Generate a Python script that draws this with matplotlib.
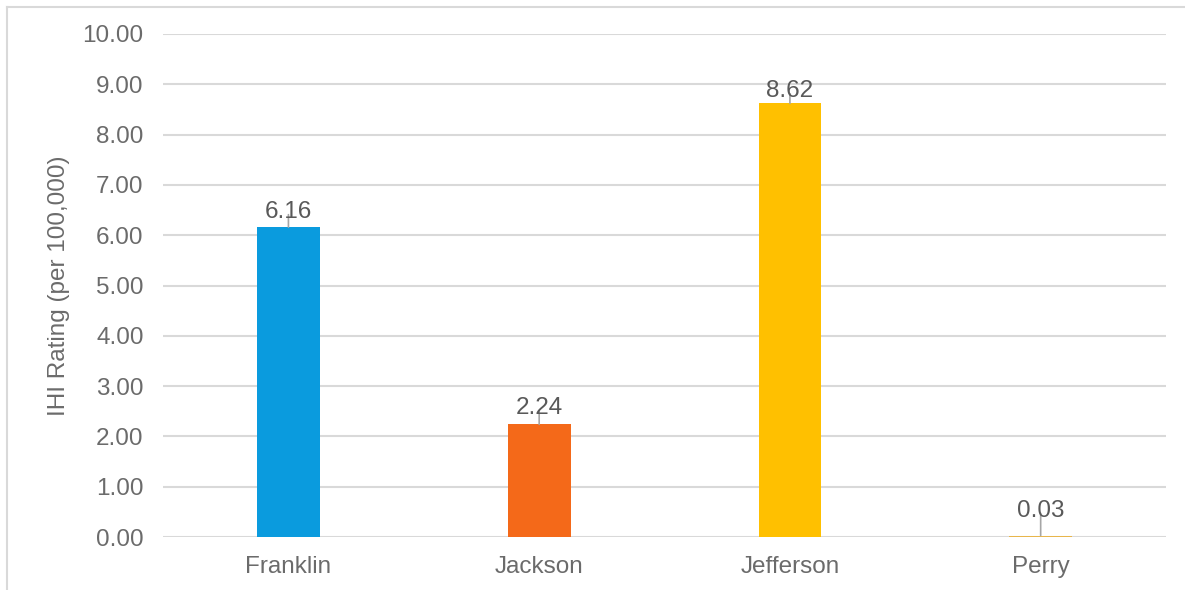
import matplotlib.pyplot as plt
from matplotlib.lines import Line2D

counties = ["Franklin", "Jackson", "Jefferson", "Perry"]
ratings = [6.16, 2.24, 8.62, 0.03]
bar_colors = ["#0A9BDE", "#F46919", "#FFC000", "#E8B64C"]
yticks = [0, 1, 2, 3, 4, 5, 6, 7, 8, 9, 10]

plt.rcParams['font.family'] = ['Liberation Sans', 'DejaVu Sans']
txt = "#6b6b6b"

fig = plt.figure(figsize=(11.85, 5.9), dpi=100)
ax = fig.add_axes([0.1376, 0.0898, 0.8464, 0.8526])

x = range(len(counties))
bars = ax.bar(x, ratings, width=0.25, color=bar_colors, zorder=3)

ax.set_ylim(0, 10)
ax.set_xlim(-0.5, len(counties) - 0.5)
ax.set_yticks(yticks)
ax.set_yticklabels(["%.2f" % v for v in yticks])
ax.set_xticks(list(x))
ax.set_xticklabels(counties)
ax.tick_params(length=0, labelsize=17.5, labelcolor=txt, pad=14)
ax.tick_params(axis='x', pad=14)
ax.grid(axis='y', color="#d9d9d9", linewidth=1.5, zorder=0)
for s in ax.spines.values():
    s.set_visible(False)
ax.set_ylabel("IHI Rating (per 100,000)", fontsize=17.5, color=txt, labelpad=9)

# label offsets in points, with leader lines
offsets = [3, 4, 1, 10]
for i, v in enumerate(ratings):
    ax.annotate("", xy=(i, v), xytext=(0, offsets[i] + 6),
                textcoords="offset points",
                arrowprops=dict(arrowstyle="-", color="#a6a6a6", lw=1.2,
                                shrinkA=0, shrinkB=0), zorder=4)
    ax.annotate("%.2f" % v, xy=(i, v), xytext=(0, offsets[i]),
                textcoords="offset points", ha="center", va="bottom",
                fontsize=17.5, color="#595959", zorder=5)

# outer border
fig.add_artist(Line2D([0.006, 0.006], [0, 0.988], color="#d9d9d9", lw=1.5))
fig.add_artist(Line2D([0.006, 1], [0.988, 0.988], color="#d9d9d9", lw=1.5))

fig.savefig("out.png", dpi=100)
